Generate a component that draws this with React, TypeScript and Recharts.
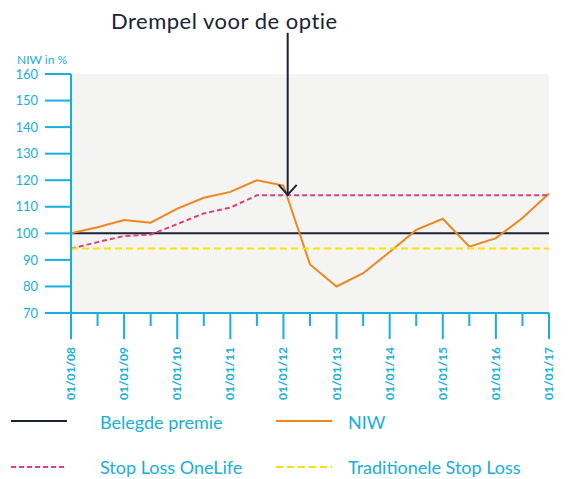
import {
  LineChart,
  Line,
  XAxis,
  YAxis,
  CartesianGrid,
  ReferenceLine,
  Legend,
} from "recharts";

const CYAN = "#17aee0";
const NAVY = "#1c2333";

const years = [8, 8.5, 9, 9.5, 10, 10.5, 11, 11.5, 12, 12.5, 13, 13.5, 14, 14.5, 15, 15.5, 16, 16.5, 17];
const niw = [100, 102.3, 105, 104, 109.3, 113.4, 115.6, 120, 118, 88.3, 80, 85, 93, 101.3, 105.5, 95, 98.2, 105.8, 115];
const stopLossOneLife = [94.2, 96.7, 99, 99.5, 103.5, 107.5, 109.7, 114.3, 114.3, 114.3, 114.3, 114.3, 114.3, 114.3, 114.3, 114.3, 114.3, 114.3, 114.3];
const belegdePremie = [100, 100, 100, 100, 100, 100, 100, 100, 100, 100, 100, 100, 100, 100, 100, 100, 100, 100, 100];
const traditioneel = [94.3, 94.3, 94.3, 94.3, 94.3, 94.3, 94.3, 94.3, 94.3, 94.3, 94.3, 94.3, 94.3, 94.3, 94.3, 94.3, 94.3, 94.3, 94.3];

const xTicks = years;
const xLabels = ["01/01/08", "01/01/09", "01/01/10", "01/01/11", "01/01/12", "01/01/13", "01/01/14", "01/01/15", "01/01/16", "01/01/17"];
const yTicks = [70, 80, 90, 100, 110, 120, 130, 140, 150, 160];

// arrow "Drempel voor de optie"
const arrowX = 12.08;
const arrowFrom = 175.5;
const arrowTo = 114.5;

const data = years.map((t, i) => ({
  t,
  niw: niw[i],
  onelife: stopLossOneLife[i],
  premie: belegdePremie[i],
  trad: traditioneel[i],
}));

function XTick({ x, y, payload }: any) {
  const v = payload.value as number;
  const major = Number.isInteger(v);
  return (
    <g>
      <line x1={x} x2={x} y1={y} y2={y + (major ? 26 : 13)} stroke={CYAN} strokeWidth={2} />
      {major && (
        <text
          transform={`translate(${x + 4},${y + 34}) rotate(-90)`}
          textAnchor="end"
          fontSize={12}
          fontWeight={700}
          fill={CYAN}
        >
          {xLabels[v - 8]}
        </text>
      )}
    </g>
  );
}

function Arrow({ x1, y1, x2, y2 }: any) {
  const top = Math.min(y1, y2);
  const tip = Math.max(y1, y2);
  return (
    <g fill="none" stroke={NAVY} strokeWidth={2}>
      <line x1={x1} x2={x2} y1={top} y2={tip} />
      <polyline points={`${x1 - 9},${tip - 10} ${x1},${tip} ${x1 + 9},${tip - 10}`} />
    </g>
  );
}

const legendOrder = ["premie", "niw", "onelife", "trad"];

function LegendBox({ payload }: any) {
  const items = legendOrder
    .map((k) => (payload || []).find((p: any) => p.dataKey === k))
    .filter(Boolean);
  return (
    <div style={{ position: "relative", width: 583, height: 75 }}>
      {items.map((p: any, i: number) => {
        const col = i % 2;
        const row = Math.floor(i / 2);
        const left = col === 0 ? 11 : 276;
        const top = row === 0 ? 17 : 63;
        return (
          <div key={p.dataKey} style={{ position: "absolute", left, top, height: 0 }}>
            <svg width={58} height={6} style={{ position: "absolute", left: 0, top: -3 }}>
              <line
                x1={0}
                x2={56}
                y1={3}
                y2={3}
                stroke={p.color}
                strokeWidth={2}
                strokeDasharray={p.payload.strokeDasharray}
              />
            </svg>
            <span
              style={{
                position: "absolute",
                left: col === 0 ? 89 : 72,
                top: row === 0 ? -10 : -11,
                whiteSpace: "nowrap",
                fontSize: 18,
                color: CYAN,
                lineHeight: "22px",
              }}
            >
              {p.value}
            </span>
          </div>
        );
      })}
    </div>
  );
}

export default function App() {
  return (
    <div style={{ position: "absolute", left: 0, top: 0, width: 583, height: 479, fontFamily: "Lato, sans-serif", overflow: "hidden" }}>
      <div style={{ position: "absolute", left: 111, top: 10, fontSize: 22, lineHeight: "22px", letterSpacing: 0.5, color: NAVY, whiteSpace: "nowrap" }}>
        Drempel voor de optie
      </div>
      <div style={{ position: "absolute", left: 17, top: 52, fontSize: 12, color: CYAN, whiteSpace: "nowrap" }}>
        NIW in %
      </div>
      <LineChart width={583} height={479} data={data} margin={{ top: 74, right: 34, bottom: 0, left: 0 }}>
        <CartesianGrid fill="#f4f4f2" stroke="none" horizontal={false} vertical={false} />
        <XAxis
          dataKey="t"
          type="number"
          domain={[8, 17]}
          ticks={xTicks}
          interval={0}
          height={91}
          tickSize={0}
          tickMargin={0}
          tickLine={false}
          axisLine={{ stroke: CYAN, strokeWidth: 2 }}
          tick={<XTick />}
        />
        <YAxis
          domain={[70, 160]}
          ticks={yTicks}
          interval={0}
          width={71}
          tickSize={26}
          tickMargin={7}
          axisLine={{ stroke: CYAN, strokeWidth: 2 }}
          tickLine={{ stroke: CYAN, strokeWidth: 2 }}
          tick={{ fill: CYAN, fontSize: 13 }}
        />
        <Legend verticalAlign="bottom" align="left" height={75} content={<LegendBox />} wrapperStyle={{ left: 0, width: 583 }} />
        <Line name="Belegde premie" dataKey="premie" stroke={NAVY} strokeWidth={2} dot={false} isAnimationActive={false} />
        <Line name="NIW" dataKey="niw" type="linear" stroke="#f0861f" strokeWidth={2} dot={false} isAnimationActive={false} />
        <Line name="Stop Loss OneLife" dataKey="onelife" stroke="#e53d7c" strokeWidth={2} strokeDasharray="5 3" dot={false} isAnimationActive={false} />
        <Line name="Traditionele Stop Loss" dataKey="trad" stroke="#ffe100" strokeWidth={2} strokeDasharray="7 4" dot={false} isAnimationActive={false} />
        <ReferenceLine
          segment={[{ x: arrowX, y: arrowFrom }, { x: arrowX, y: arrowTo }]}
          ifOverflow="visible"
          shape={<Arrow />}
        />
      </LineChart>
    </div>
  );
}
